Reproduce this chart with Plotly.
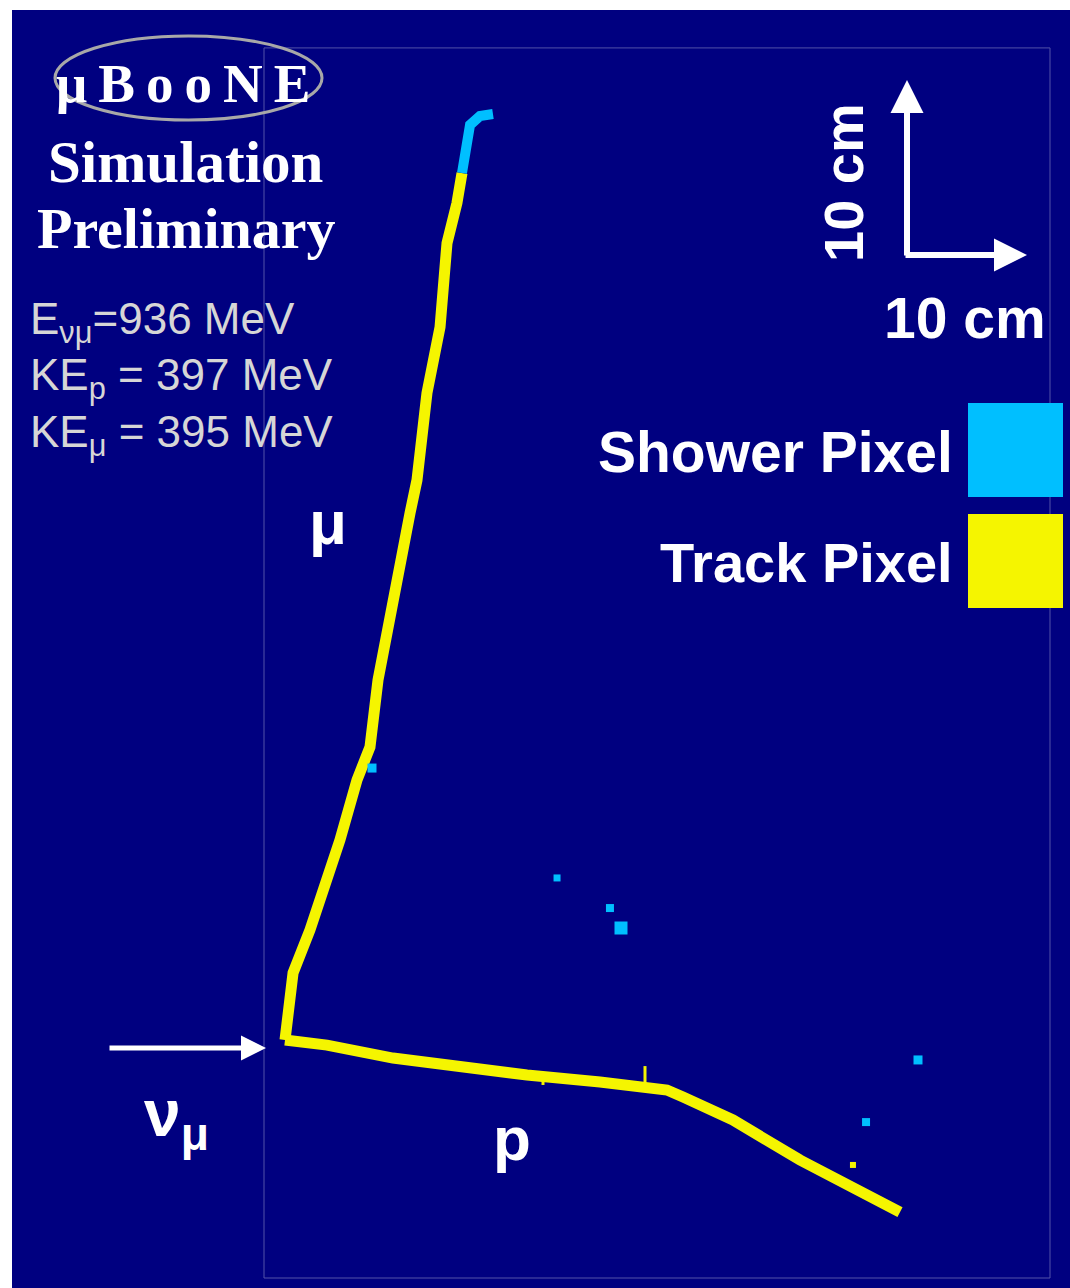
import plotly.graph_objects as go

# ---------------- data (cm; x = horizontal, y = vertical, frame origin at lower-left) ----------------
muon_x = [1.75, 2.08, 2.42, 3.83, 5.25, 6.33, 7.75, 8.83, 9.5, 10.5, 11.33, 12.17, 12.75, 13.58, 14.67, 14.92, 15.25, 16.08, 16.5]
muon_y = [13.6, 15.89, 17.43, 19.89, 22.74, 25.03, 28.46, 30.34, 34.17, 38.0, 40.86, 43.71, 45.6, 50.57, 54.34, 57.2, 59.14, 61.43, 63.14]

muon_end_x = [16.5, 16.83, 17.17, 18.0, 19.08]
muon_end_y = [63.14, 64.46, 65.89, 66.4, 66.51]

proton_x = [1.75, 5.25, 10.75, 16.33, 21.92, 28.0, 33.58, 34.92, 39.08, 44.67, 50.25, 53.0]
proton_y = [13.6, 13.31, 12.57, 12.06, 11.6, 11.2, 10.74, 10.34, 9.03, 6.74, 4.63, 3.77]

blip_x = [[31.75, 31.75], [23.25, 23.25]]
blip_y = [[10.97, 12.11], [11.03, 11.6]]
track_dot_x = [49.08]
track_dot_y = [6.46]

shower_x = [24.42, 28.83, 29.75, 54.5, 50.17, 9.0]
shower_y = [22.86, 21.14, 20.0, 12.46, 8.91, 29.14]
shower_size = [7, 8, 13, 9, 8, 9]

frame_x = [0, 65.5]
frame_y = [0, 70.29]

NAVY = "#000080"
YELLOW = "#f5f500"
BLUE = "#00bfff"

fig = go.Figure()

# frame
fig.add_shape(type="rect", xref="x", yref="y", x0=frame_x[0], x1=frame_x[1], y0=frame_y[0], y1=frame_y[1],
              line=dict(color="#5252a8", width=1), layer="below")

fig.add_trace(go.Scatter(x=muon_x, y=muon_y, mode="lines", line=dict(color=YELLOW, width=11), hoverinfo="skip"))
fig.add_trace(go.Scatter(x=proton_x, y=proton_y, mode="lines", line=dict(color=YELLOW, width=11), hoverinfo="skip"))
for bx, by in zip(blip_x, blip_y):
    fig.add_trace(go.Scatter(x=bx, y=by, mode="lines", line=dict(color=YELLOW, width=3), hoverinfo="skip"))
fig.add_trace(go.Scatter(x=track_dot_x, y=track_dot_y, mode="markers",
                         marker=dict(color=YELLOW, size=6, symbol="square", line=dict(width=0)), hoverinfo="skip"))
fig.add_trace(go.Scatter(x=muon_end_x, y=muon_end_y, mode="lines", line=dict(color=BLUE, width=10), hoverinfo="skip"))
fig.add_trace(go.Scatter(x=shower_x, y=shower_y, mode="markers",
                         marker=dict(color=BLUE, size=shower_size, symbol="square", opacity=1, line=dict(width=0)),
                         hoverinfo="skip"))

# ---------------- layout helpers (page pixel -> paper) ----------------
L, T = 12, 10                # navy area starts here on the page
W, H = 1070, 1288
PW, PH = W - L, H - T


def px(x):
    return (x - L) / PW


def py(y):
    return 1 - (y - T) / PH


ann = []


def text(t, x, y, size, family="Liberation Sans", color="white", bold=True, xanchor="center", angle=0):
    ann.append(dict(text=t, x=px(x), y=py(y), xref="paper", yref="paper", showarrow=False,
                    xanchor=xanchor, yanchor="middle", textangle=angle,
                    font=dict(size=size, family=family, color=color, weight="bold" if bold else "normal")))


SER = "Liberation Serif"
text("μ\u2009B\u2009o\u2009o\u2009N\u2009E", 183, 84, 55, family=SER)
text("Simulation", 185, 162, 59, family=SER)
text("Preliminary", 186, 228, 58, family=SER)
text("E<sub>νμ</sub>=936 MeV", 28, 322, 44, color="#d6d6d6", bold=False, xanchor="left")
text("KE<sub>p</sub> = 397 MeV", 28, 378, 44, color="#d6d6d6", bold=False, xanchor="left")
text("KE<sub>μ</sub> = 395 MeV", 28, 435, 44, color="#d6d6d6", bold=False, xanchor="left")
text("μ", 328, 522, 62)
text("p", 512, 1138, 62)
text("ν<sub>μ</sub>", 176, 1118, 66)
text("10 cm", 843, 183, 56, angle=-90)
text("10 cm", 965, 318, 57)
text("Shower Pixel", 955, 452, 57, xanchor="right")
text("Track Pixel", 955, 563, 56, xanchor="right")


# arrows
def arrow(x0, y0, x1, y1, width, size):
    ann.append(dict(x=px(x1), y=py(y1), xref="paper", yref="paper", ax=x0 - x1, ay=y0 - y1,
                    axref="pixel", ayref="pixel", showarrow=True, arrowhead=2, arrowsize=size,
                    arrowwidth=width, arrowcolor="white", text=""))


arrow(907, 257, 907, 80, 6, 1.1)
arrow(904, 255, 1027, 255, 6, 1.1)
arrow(108, 1048, 266, 1048, 5, 1.0)

shapes = [
    dict(type="rect", xref="paper", yref="paper", x0=px(968), x1=px(1063), y0=py(497), y1=py(403),
         fillcolor=BLUE, line=dict(width=0)),
    dict(type="rect", xref="paper", yref="paper", x0=px(968), x1=px(1063), y0=py(608), y1=py(514),
         fillcolor=YELLOW, line=dict(width=0)),
    dict(type="circle", xref="paper", yref="paper", x0=px(55), x1=px(322), y0=py(120), y1=py(36),
         line=dict(color="#a8a8a8", width=3)),
]

fig.update_layout(
    width=W, height=H,
    margin=dict(l=L, r=0, t=T, b=0, pad=0),
    paper_bgcolor="white", plot_bgcolor=NAVY,
    showlegend=False,
    xaxis=dict(range=[(L - 264) / 12, (W - 264) / 12], visible=False, fixedrange=True),
    yaxis=dict(range=[(1278 - H) / 17.5, (1278 - T) / 17.5], visible=False, fixedrange=True),
    annotations=ann,
)
for s in shapes:
    fig.add_shape(**s)

fig.write_html("out.html", config={"displayModeBar": False},
               post_script="document.body.style.margin='0';document.body.style.overflow='hidden';")
